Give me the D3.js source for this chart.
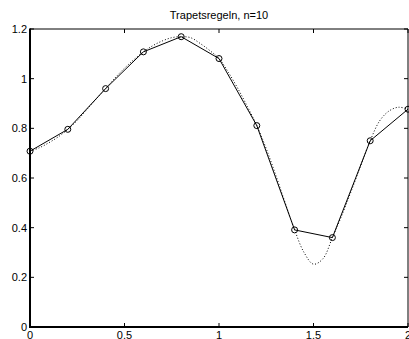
<!DOCTYPE html>
<html>
<head>
<meta charset="utf-8">
<script src="https://cdn.jsdelivr.net/npm/d3@7"></script>
<style>
html,body{margin:0;padding:0;background:#fff;}
svg{display:block;}
text{font-family:"Liberation Sans",Arial,Helvetica,sans-serif;font-size:11px;fill:#000;}
</style>
</head>
<body>
<svg id="chart" width="409" height="339"></svg>
<script>
// Trapezoid nodes
const nodeX = [0, 0.2, 0.4, 0.6, 0.8, 1.0, 1.2, 1.4, 1.6, 1.8, 2.0];
const nodeY = [0.708, 0.796, 0.960, 1.108, 1.169, 1.081, 0.811, 0.391, 0.360, 0.750, 0.877];
// Exact function (dotted)
const curveX = [0, 0.05, 0.1, 0.15, 0.2, 0.25, 0.3, 0.35, 0.4, 0.45, 0.5, 0.55, 0.6, 0.65, 0.7, 0.75, 0.8,
  0.85, 0.9, 0.95, 1.0, 1.05, 1.1, 1.15, 1.2, 1.25, 1.3, 1.35, 1.4, 1.45, 1.5, 1.55, 1.6, 1.65, 1.7, 1.75, 1.8,
  1.85, 1.9, 1.95, 2.0];
const curveY = [0.708, 0.722, 0.742, 0.766, 0.796, 0.832, 0.875, 0.918, 0.960, 1.003, 1.042, 1.077, 1.108,
  1.133, 1.152, 1.165, 1.169, 1.165, 1.142, 1.114, 1.081, 1.025, 0.960, 0.888, 0.811, 0.718, 0.612, 0.500,
  0.391, 0.300, 0.253, 0.275, 0.360, 0.450, 0.548, 0.650, 0.750, 0.830, 0.870, 0.885, 0.877];
const xTicks = [0, 0.5, 1, 1.5, 2];
const xTickLabels = ["0", "0.5", "1", "1.5", "2"];
const yTicks = [0, 0.2, 0.4, 0.6, 0.8, 1, 1.2];
const yTickLabels = ["0", "0.2", "0.4", "0.6", "0.8", "1", "1.2"];
const title = "Trapetsregeln, n=10";

const svg = d3.select("#chart");
const L = 30, R = 408, T = 29, B = 327;
const x = d3.scaleLinear().domain([0, 2]).range([L, R]);
const y = d3.scaleLinear().domain([0, 1.2]).range([B, T]);

// ticks (inward, mirrored)
const tl = 4;
const g = svg.append("g");
xTicks.forEach(v => {
  g.append("line").attr("x1", x(v)).attr("x2", x(v)).attr("y1", B).attr("y2", B - tl).attr("stroke", "#000").attr("stroke-width", 1);
  g.append("line").attr("x1", x(v)).attr("x2", x(v)).attr("y1", T).attr("y2", T + tl).attr("stroke", "#000").attr("stroke-width", 1);
});
yTicks.forEach(v => {
  g.append("line").attr("x1", L).attr("x2", L + tl).attr("y1", y(v)).attr("y2", y(v)).attr("stroke", "#000").attr("stroke-width", 1);
  g.append("line").attr("x1", R).attr("x2", R - tl).attr("y1", y(v)).attr("y2", y(v)).attr("stroke", "#000").attr("stroke-width", 1);
});

// frame
g.append("line").attr("x1", L).attr("x2", R).attr("y1", T).attr("y2", T).attr("stroke", "#000").attr("stroke-width", 1);
g.append("line").attr("x1", R).attr("x2", R).attr("y1", T).attr("y2", B).attr("stroke", "#000").attr("stroke-width", 1);
g.append("line").attr("x1", L).attr("x2", L).attr("y1", T - 0.5).attr("y2", B + 1).attr("stroke", "#000").attr("stroke-width", 2);
g.append("line").attr("x1", L - 1).attr("x2", R).attr("y1", B).attr("y2", B).attr("stroke", "#000").attr("stroke-width", 2);

// tick labels
xTicks.forEach((v, i) => {
  svg.append("text").attr("x", x(v)).attr("y", B + 11.5).attr("text-anchor", "middle").text(xTickLabels[i]);
});
yTicks.forEach((v, i) => {
  svg.append("text").attr("x", L - 3).attr("y", y(v) + 4).attr("text-anchor", "end").text(yTickLabels[i]);
});

// title
svg.append("text").attr("x", (L + R) / 2).attr("y", 19).attr("text-anchor", "middle").text(title);

// dotted curve
const line = d3.line().x(d => x(d[0])).y(d => y(d[1])).curve(d3.curveCatmullRom);
svg.append("path").datum(curveX.map((v, i) => [v, curveY[i]]))
  .attr("d", line).attr("fill", "none").attr("stroke", "#000").attr("stroke-width", 1).attr("stroke-dasharray", "1,2");

// solid polyline
const line2 = d3.line().x(d => x(d[0])).y(d => y(d[1]));
svg.append("path").datum(nodeX.map((v, i) => [v, nodeY[i]]))
  .attr("d", line2).attr("fill", "none").attr("stroke", "#000").attr("stroke-width", 1);

// circle markers
svg.selectAll("circle.m").data(nodeX.map((v, i) => [v, nodeY[i]])).enter().append("circle")
  .attr("class", "m").attr("cx", d => x(d[0])).attr("cy", d => y(d[1])).attr("r", 3)
  .attr("fill", "none").attr("stroke", "#000").attr("stroke-width", 1);
</script>
</body>
</html>
